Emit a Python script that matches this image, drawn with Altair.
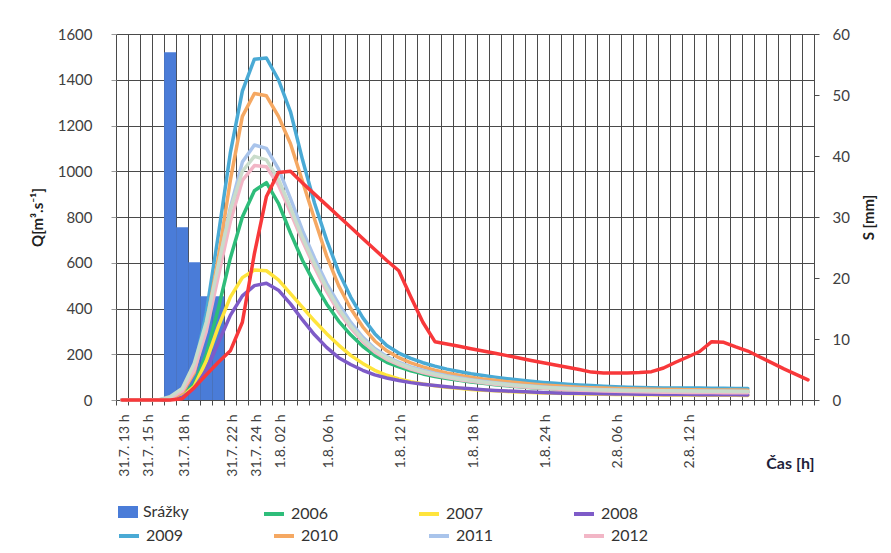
import altair as alt
import pandas as pd

# ---------------- data ----------------
# category axis: hourly steps, index 0 = 31.7. 13 h ... index 57
x_labels = ['31.7. 13 h', '', '31.7. 15 h', '', '', '31.7. 18 h', '', '', '', '31.7. 22 h',
            '', '31.7. 24 h', '', '1.8. 02 h', '', '', '', '1.8. 06 h', '', '',
            '', '', '', '1.8. 12 h', '', '', '', '', '', '1.8. 18 h',
            '', '', '', '', '', '1.8. 24 h', '', '', '', '',
            '', '2.8. 06 h', '', '', '', '', '', '2.8. 12 h', '', '',
            '', '', '', '', '', '', '', '']

rain_idx = [4, 5, 6, 7, 8]
rain_mm = [57.0, 28.3, 22.6, 17.0, 17.0]

q2006 = [0, 0, 0, 0, 3, 20, 70, 200, 400, 620, 800, 915, 950,
         860, 730, 610, 510, 420, 345, 285, 235, 195, 165,
         145, 128, 114, 103, 94, 86, 79, 73, 67, 62,
         58, 54, 51, 48, 45, 43, 41, 40, 39, 38,
         37, 36, 36, 35, 35, 35, 34, 34, 34, 34]
q2007 = [0, 0, 0, 0, 2, 15, 60, 170, 320, 450, 535, 568, 565,
         525, 465, 405, 345, 290, 240, 195, 160, 130, 108,
         92, 80, 70, 62, 56, 51, 46, 43, 40, 37,
         35, 33, 31, 30, 28, 27, 26, 25, 24, 24,
         23, 23, 22, 22, 22, 21, 21, 21, 21, 20]
q2008 = [0, 0, 0, 0, 2, 12, 50, 130, 250, 370, 455, 500, 510,
         480, 420, 350, 285, 230, 185, 155, 130, 110, 96,
         85, 76, 69, 63, 58, 53, 49, 45, 42, 39,
         37, 35, 33, 31, 30, 29, 28, 27, 26, 26,
         25, 25, 24, 24, 24, 23, 23, 23, 23, 22]
q2009 = [0, 0, 0, 0, 5, 35, 140, 380, 720, 1080, 1350, 1490, 1495,
         1400, 1260, 1050, 860, 700, 560, 450, 360, 290, 238,
         205, 182, 163, 148, 135, 125, 115, 107, 100, 93,
         87, 82, 77, 73, 69, 66, 63, 60, 58, 56,
         55, 54, 53, 53, 52, 52, 51, 51, 50, 50]
q2010 = [0, 0, 0, 0, 5, 30, 120, 330, 620, 960, 1240, 1340, 1330,
         1240, 1120, 955, 790, 630, 500, 400, 320, 258, 215,
         185, 162, 145, 130, 118, 108, 100, 92, 86, 80,
         75, 70, 66, 62, 59, 56, 54, 52, 50, 49,
         48, 47, 46, 46, 45, 45, 44, 44, 44, 43]
q2011 = [0, 0, 0, 0, 8, 40, 140, 320, 580, 840, 1040, 1115, 1100,
         1010, 880, 740, 620, 510, 420, 340, 275, 225, 190,
         165, 145, 130, 117, 106, 97, 89, 82, 76, 70,
         65, 61, 57, 54, 51, 49, 47, 45, 44, 43,
         42, 41, 40, 40, 39, 39, 38, 38, 38, 37]
q2012 = [0, 0, 0, 0, 8, 40, 130, 300, 540, 780, 960, 1025, 1020,
         940, 820, 695, 580, 475, 385, 315, 255, 210, 178,
         155, 135, 120, 108, 98, 89, 82, 75, 69, 64,
         59, 55, 51, 48, 45, 43, 41, 39, 38, 37,
         36, 35, 34, 34, 33, 33, 33, 32, 32, 32]
q_gray = [0, 0, 0, 0, 14, 50, 160, 340, 590, 830, 1000, 1065, 1050,
          965, 840, 710, 595, 490, 400, 325, 265, 218, 185,
          160, 140, 125, 113, 102, 93, 86, 79, 73, 68,
          63, 59, 55, 52, 49, 47, 45, 44, 43, 42,
          41, 40, 40, 39, 39, 38, 38, 38, 37, 37]
q_red = [0, 0, 0, 0, 0, 5, 55, 110, 165, 215,
         340, 640, 890, 995, 1000,
         949, 900, 852, 803, 755, 706, 658, 610, 565,
         450, 340, 255,
         245, 235, 224, 214, 204, 194, 184, 173, 163, 153, 143, 133, 122,
         118, 118, 118, 120, 124,
         140, 165, 188, 212, 255, 252, 232, 214, 188, 162, 136, 112, 88]

years_a = ['2006', '2007', '2008']
years_b = ['2009', '2010', '2011', '2012']
colors_a = ['#2EBD7A', '#FFE43C', '#7E5BC8']
colors_b = ['#4AAAD5', '#F5A862', '#A9C4EB', '#F2B6C6']
bar_color = '#4A7CD8'
gray_color = '#C9DCCB'
red_color = '#F8383A'

# ---------------- tables ----------------
series_a = {'2006': q2006, '2007': q2007, '2008': q2008}
series_b = {'2009': q2009, '2010': q2010, '2011': q2011, '2012': q2012}

def long_df(d):
    rows = []
    for name, vals in d.items():
        for i, v in enumerate(vals):
            rows.append({'idx': i, 'Q': v, 'rok': name})
    return pd.DataFrame(rows)

df_a = long_df(series_a)
df_b = long_df(series_b)
df_gray = pd.DataFrame({'idx': list(range(len(q_gray))), 'Q': q_gray})
df_red = pd.DataFrame({'idx': list(range(len(q_red))), 'Q': q_red})
df_rain = pd.DataFrame({'idx': rain_idx, 'S': rain_mm, 'name': ['Srážky'] * len(rain_idx)})

# ---------------- layout ----------------
W, H = 698, 366
N = len(x_labels)
FONT = 'Lato'
GRID = '#4A4A4A'

boundaries = [i - 0.5 for i in range(N + 1)]
label_js = '[' + ','.join("'" + s + "'" for s in x_labels) + ']'
label_expr = label_js + "[datum.value + 0.5] || ''"

x_scale = alt.Scale(domain=[-0.5, N - 0.5], nice=False, zero=False)
x_axis = alt.Axis(values=boundaries, labelExpr=label_expr, labelAngle=270,
                  labelOffset=W / N / 2 + 2, labelPadding=9, labelFontSize=14,
                  labelFont=FONT, labelColor='#404040', labelOverlap=False,
                  labelFlush=False, tickSize=5, tickColor=GRID, domainColor=GRID,
                  grid=True, gridColor=GRID, gridWidth=1,
                  title='Čas  [h]', titleFont=FONT, titleFontSize=16,
                  titleFontWeight='bold', titleColor='#1F1F3A', titleAlign='right',
                  titleX=W, titleY=68, titleBaseline='alphabetic')

q_scale = alt.Scale(domain=[0, 1600], nice=False)
q_axis = alt.Axis(orient='left', values=list(range(0, 1601, 200)), format='d',
                  grid=True, gridColor=GRID, gridWidth=1, domain=False, tickSize=5,
                  tickColor='#999999', labelPadding=19, labelFont=FONT,
                  labelFontSize=15, labelColor='#404040',
                  title='Q[m³.s⁻¹]', titleFont=FONT, titleFontSize=15,
                  titleFontWeight='bold', titleColor='#1F1F1F', titlePadding=12)

s_scale = alt.Scale(domain=[0, 60], nice=False)
s_axis = alt.Axis(orient='right', values=list(range(0, 61, 10)), grid=False,
                  domain=True, domainColor=GRID, tickSize=5, tickColor=GRID,
                  labelPadding=13, labelFont=FONT, labelFontSize=15,
                  labelColor='#404040', title='S [mm]', titleFont=FONT,
                  titleFontSize=15, titleFontWeight='bold', titleColor='#1F1F1F',
                  titleAngle=270, titlePadding=27)

X = alt.X('idx:Q', scale=x_scale, axis=x_axis)
Y = alt.Y('Q:Q', scale=q_scale, axis=q_axis)

bars = alt.Chart(df_rain).transform_calculate(
    x0='datum.idx - 0.5', x1='datum.idx + 0.5', base='0'
).mark_bar(opacity=1).encode(
    x=alt.X('x0:Q', scale=x_scale, axis=x_axis),
    x2='x1:Q',
    y=alt.Y('S:Q', scale=s_scale, axis=s_axis),
    y2='base:Q',
    fill=alt.Fill('name:N', scale=alt.Scale(domain=['Srážky'], range=[bar_color]),
                  legend=alt.Legend(orient='none', legendX=2, legendY=468, title=None,
                                    symbolType='M-1,-0.6H1V0.6H-1Z', symbolSize=400,
                                    symbolStrokeWidth=0))
)

line_kw = dict(strokeWidth=3.5, strokeJoin='round', strokeCap='round')

lines_a = alt.Chart(df_a).mark_line(**line_kw).encode(
    x=X, y=Y,
    stroke=alt.Stroke('rok:N', scale=alt.Scale(domain=years_a, range=colors_a),
                      legend=alt.Legend(orient='none', legendX=146, legendY=468,
                                        title=None, columns=3, columnPadding=82,
                                        symbolType='stroke', symbolSize=400,
                                        symbolStrokeWidth=4))
)
lines_b = alt.Chart(df_b).mark_line(**line_kw).encode(
    x=X, y=Y,
    color=alt.Color('rok:N', scale=alt.Scale(domain=years_b, range=colors_b),
                    legend=alt.Legend(orient='none', legendX=1, legendY=490,
                                      title=None, columns=4, columnPadding=82,
                                      symbolType='stroke', symbolSize=400,
                                      symbolStrokeWidth=4))
)
line_gray = alt.Chart(df_gray).mark_line(color=gray_color, **line_kw).encode(x=X, y=Y)
line_red = alt.Chart(df_red).mark_line(color=red_color, **line_kw).encode(x=X, y=Y)

lines = alt.layer(lines_a, lines_b, line_gray, line_red)

chart = alt.layer(bars, lines).resolve_scale(
    y='independent', color='independent', stroke='independent', fill='independent'
).properties(
    width=W, height=H,
    autosize=alt.AutoSizeParams(type='none'),
    padding={'left': 108, 'top': 26, 'right': 69, 'bottom': 145},
    background='white'
).configure_view(stroke=None).configure_legend(
    labelFont=FONT, labelFontSize=16, labelFontWeight='normal', labelColor='#333333',
    padding=0, labelOffset=5, rowPadding=0
)

chart.save('out.html', embed_options={'renderer': 'svg', 'actions': False})
